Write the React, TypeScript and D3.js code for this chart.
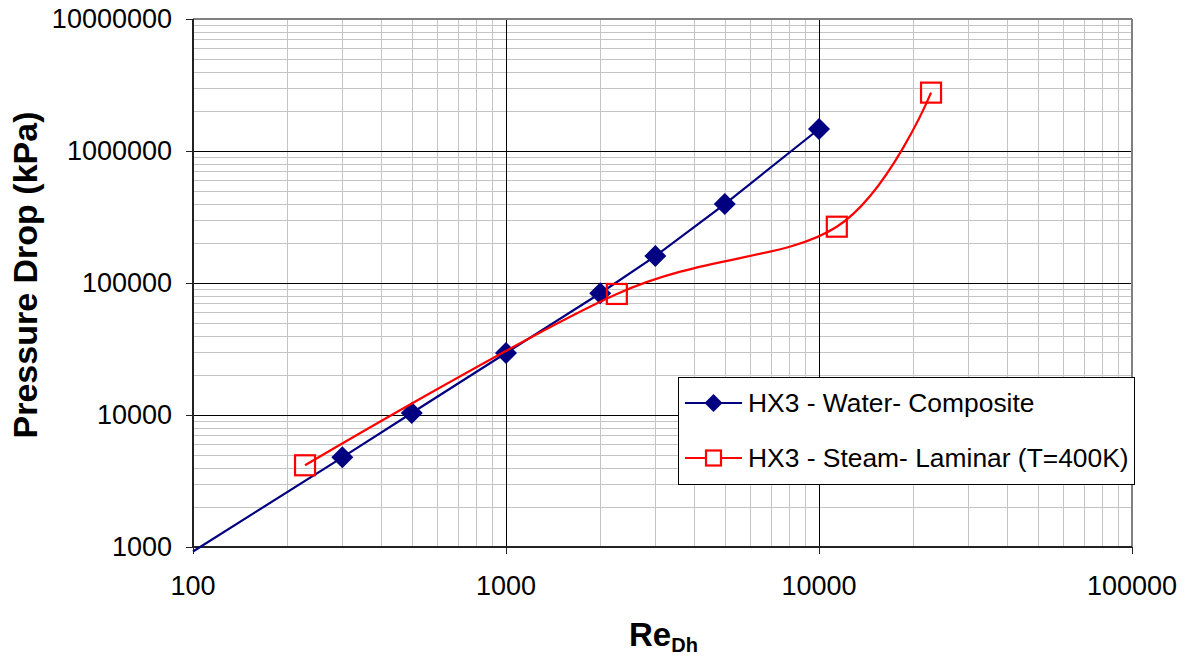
import React from "react";
import * as d3 from "d3";

const xTicks = [100, 1000, 10000, 100000];
const yTicks = [1000, 10000, 100000, 1000000, 10000000];
const waterRe = [100, 300, 500, 1000, 2000, 3000, 5000, 10000];
const waterDp = [925, 4780, 10350, 29500, 83600, 160000, 396000, 1468000];
const steamRe = [228, 2260, 11400, 22800];
const steamDp = [4160, 82600, 267000, 2768000];
const waterName = "HX3 - Water- Composite";
const steamName = "HX3 - Steam- Laminar (T=400K)";

const W = 1186, H = 656;
const L = 193, R = 1132, T = 19, B = 547;
const FONT = "'Liberation Sans', Arial, sans-serif";

function minors(lo: number, hi: number) {
  const out: number[] = [];
  for (let d = lo; d < hi; d *= 10) for (let k = 2; k <= 9; k++) out.push(d * k);
  return out;
}

export default function App() {
  const x = d3.scaleLog().domain([100, 100000]).range([L, R]);
  const y = d3.scaleLog().domain([1000, 10000000]).range([B, T]);
  const water = waterRe.map((r, i) => [x(r), y(waterDp[i])] as [number, number]);
  const steam = steamRe.map((r, i) => [x(r), y(steamDp[i])] as [number, number]);
  const lineStraight = d3.line();
  const lineSmooth = d3.line().curve(d3.curveCardinal.tension(0));
  const diamond = (cx: number, cy: number, s: number) =>
    `M${cx},${cy - s}L${cx + s},${cy}L${cx},${cy + s}L${cx - s},${cy}Z`;
  const px = (v: number) => Math.round(v) + 0.5;

  return (
    <svg width={W} height={H} style={{ position: "absolute", left: 0, top: 0, background: "#fff" }} fontFamily={FONT}>
      <g shapeRendering="crispEdges">
        {minors(100, 100000).map((v) => (
          <line key={"mx" + v} x1={px(x(v))} x2={px(x(v))} y1={T} y2={B} stroke="#c4c4c4" strokeWidth={1} />
        ))}
        {minors(1000, 10000000).map((v) => (
          <line key={"my" + v} x1={L} x2={R} y1={px(y(v))} y2={px(y(v))} stroke="#c4c4c4" strokeWidth={1} />
        ))}
        {xTicks.slice(1, -1).map((v) => (
          <line key={"Mx" + v} x1={px(x(v))} x2={px(x(v))} y1={T} y2={B} stroke="#000" strokeWidth={1} />
        ))}
        {yTicks.slice(1, -1).map((v) => (
          <line key={"My" + v} x1={L} x2={R} y1={px(y(v))} y2={px(y(v))} stroke="#000" strokeWidth={1} />
        ))}
        <line x1={L} x2={R} y1={T} y2={T} stroke="#808080" strokeWidth={2} />
        <line x1={R} x2={R} y1={T} y2={B} stroke="#808080" strokeWidth={2} />
        <line x1={L} x2={L} y1={T} y2={B + 1} stroke="#222" strokeWidth={2} />
        <line x1={L - 1} x2={R} y1={B} y2={B} stroke="#222" strokeWidth={2} />
        {yTicks.map((v) => (
          <line key={"ytl" + v} x1={L - 7} x2={L} y1={px(y(v))} y2={px(y(v))} stroke="#222" strokeWidth={1} />
        ))}
        {xTicks.map((v) => (
          <line key={"xtl" + v} x1={px(x(v))} x2={px(x(v))} y1={B} y2={B + 7} stroke="#222" strokeWidth={1} />
        ))}
      </g>
      {yTicks.map((v) => (
        <text key={"yt" + v} x={172} y={y(v)} textAnchor="end" dominantBaseline="central" fontSize={27} fill="#000">
          {v}
        </text>
      ))}
      {xTicks.map((v) => (
        <text key={"xt" + v} x={x(v)} y={586} textAnchor="middle" dominantBaseline="central" fontSize={27} fill="#000">
          {v}
        </text>
      ))}
      <text
        transform={`translate(37,275) rotate(-90)`}
        textAnchor="middle"
        fontSize={34}
        fontWeight="bold"
        fill="#000"
      >
        Pressure Drop (kPa)
      </text>
      <text x={629} y={646} fontSize={33} fontWeight="bold" fill="#000">
        Re
        <tspan fontSize={20} dy={6}>Dh</tspan>
      </text>
      <path d={lineStraight(water) || ""} fill="none" stroke="#000080" strokeWidth={2.2} />
      {water.slice(1).map(([cx, cy], i) => (
        <path key={"wd" + i} d={diamond(cx, cy, 11)} fill="#000080" />
      ))}
      <path d={lineSmooth(steam) || ""} fill="none" stroke="#ff0000" strokeWidth={2.2} />
      {steam.map(([cx, cy], i) => (
        <rect key={"ss" + i} x={cx - 10} y={cy - 10} width={20} height={20} fill="none" stroke="#ff0000" strokeWidth={2.2} />
      ))}
      <rect x={678.5} y={377.5} width={456} height={107} fill="#fff" stroke="#000" strokeWidth={1} />
      <line x1={685} x2={742} y1={403} y2={403} stroke="#000080" strokeWidth={2.2} />
      <path d={diamond(713.5, 403, 9)} fill="#000080" />
      <text x={748} y={403} dominantBaseline="central" fontSize={26.4} fill="#000">{waterName}</text>
      <line x1={685} x2={742} y1={458} y2={458} stroke="#ff0000" strokeWidth={2.2} />
      <rect x={706} y={450.5} width={15} height={15} fill="#fff" stroke="#ff0000" strokeWidth={2.2} />
      <text x={748} y={458} dominantBaseline="central" fontSize={26.4} fill="#000">{steamName}</text>
    </svg>
  );
}
